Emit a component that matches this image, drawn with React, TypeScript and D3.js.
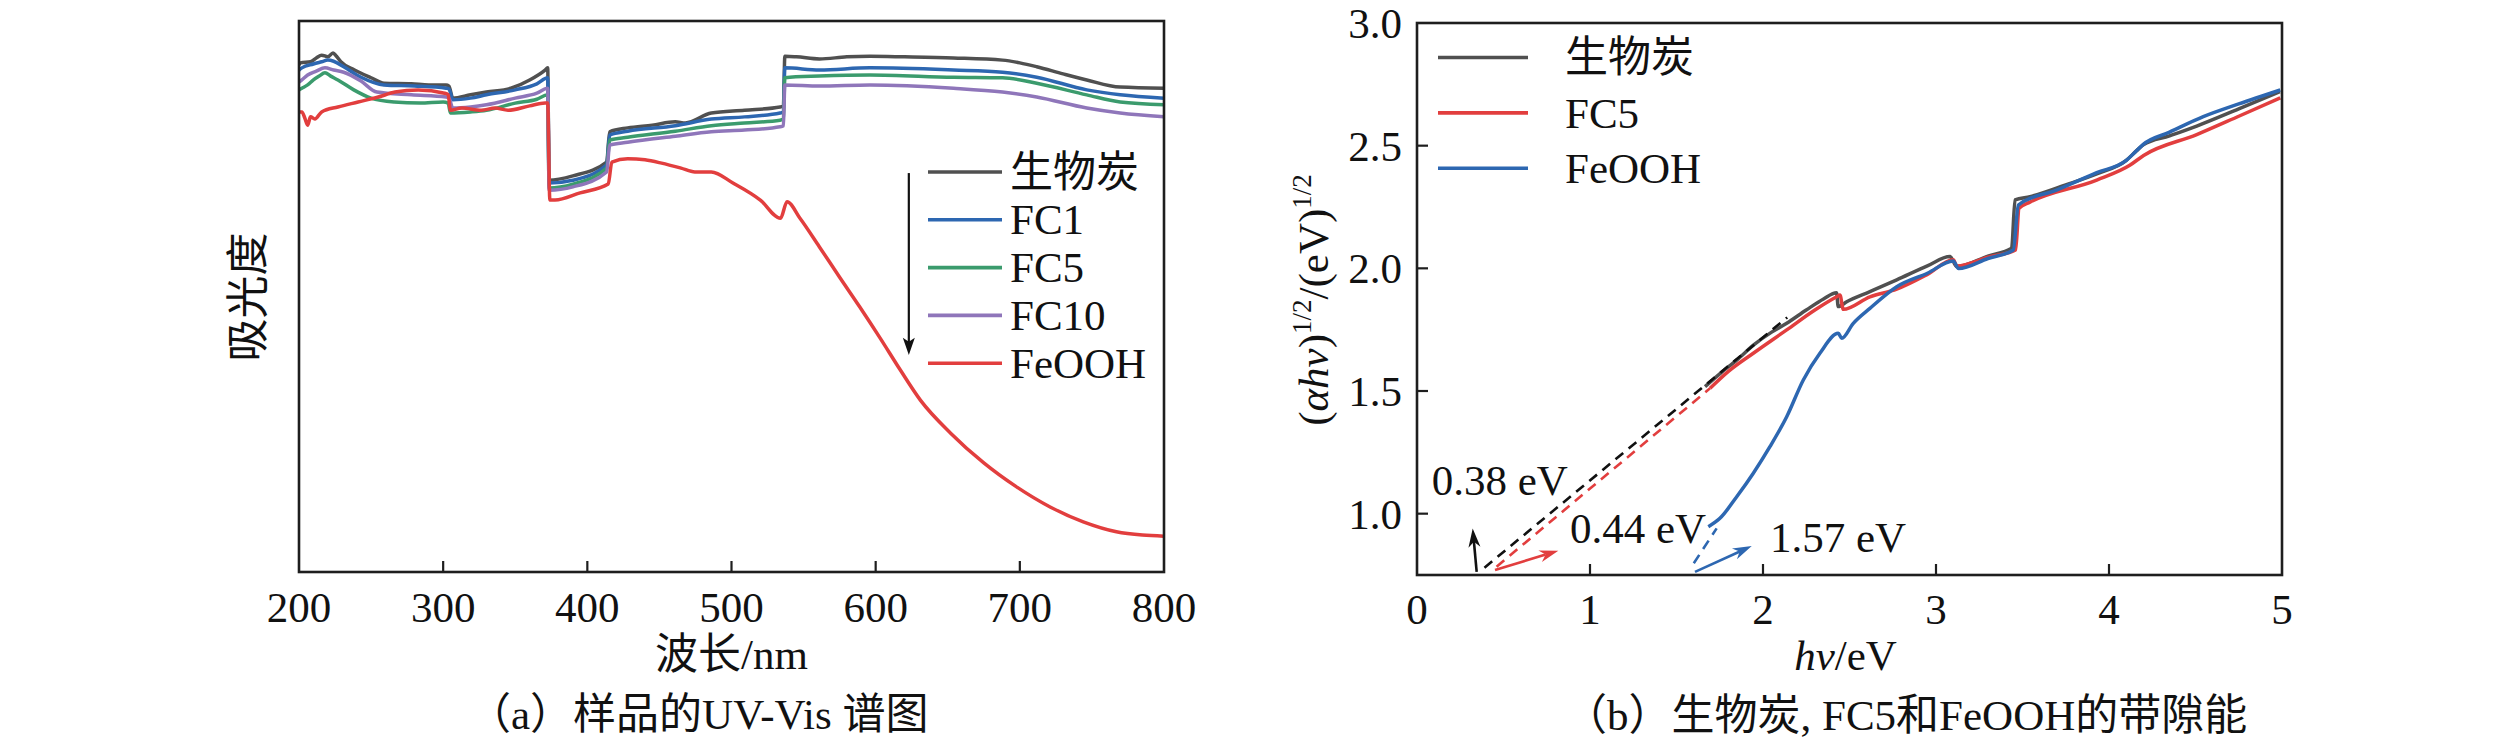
import * as d3 from "d3";

const SERIF = "'Liberation Serif', serif";
const MIXED = "'Liberation Serif', 'Noto Sans CJK SC', serif";

// ---------- (a) UV-Vis spectra, absorbance in a.u. (0-1) ----------
const uvTicks = [200, 300, 400, 500, 600, 700, 800];

const biocharUV: [number, number][] = [
  [200, 0.92], [201, 0.924], [208, 0.926], [212, 0.933], [215.7, 0.938], [220, 0.935],
  [223.6, 0.942], [226, 0.936], [229, 0.926], [238.5, 0.911], [250, 0.897], [259, 0.887],
  [278, 0.886], [290, 0.884], [302, 0.884], [304, 0.882], [306.7, 0.86], [319, 0.866],
  [330, 0.871], [347, 0.878], [360, 0.893], [370.7, 0.911], [372.5, 0.915], [373.5, 0.711],
  [390, 0.719], [413.4, 0.744], [415.5, 0.799], [428, 0.806], [445, 0.811], [461, 0.817],
  [468, 0.815], [486, 0.833], [509, 0.838], [533.7, 0.844], [536, 0.846], [537, 0.936],
  [545, 0.935], [561, 0.931], [580, 0.935], [596, 0.936], [620, 0.935], [654, 0.933],
  [688, 0.929], [700, 0.924], [711.7, 0.917], [730, 0.904], [746.4, 0.893], [769.6, 0.88],
  [800, 0.878],
];

const fc1UV: [number, number][] = [
  [200, 0.911], [202, 0.915], [210, 0.922], [215.7, 0.926], [220, 0.929], [224, 0.927],
  [231, 0.917], [243, 0.898], [259, 0.884], [280, 0.882], [302, 0.878], [304, 0.877],
  [306.7, 0.857], [319, 0.86], [330, 0.866], [350, 0.875], [365, 0.886], [372.5, 0.897],
  [373.5, 0.706], [390, 0.711], [413.4, 0.739], [415.5, 0.793], [428, 0.8], [461, 0.81],
  [486, 0.822], [509, 0.826], [533.7, 0.833], [536, 0.835], [537, 0.915], [561, 0.911],
  [596, 0.915], [654, 0.911], [688, 0.907], [711.7, 0.898], [746.4, 0.875], [769.6, 0.866],
  [800, 0.86],
];

const fc5UV: [number, number][] = [
  [200, 0.875], [202, 0.878], [206, 0.884], [210, 0.893], [214, 0.9], [218, 0.906],
  [222, 0.9], [227, 0.893], [238, 0.875], [250, 0.86], [266, 0.853], [284, 0.851],
  [300, 0.853], [303.5, 0.851], [305, 0.833], [319, 0.835], [330, 0.838], [350, 0.851],
  [365, 0.858], [372.5, 0.866], [373.5, 0.697], [390, 0.704], [413.4, 0.733], [415.5, 0.784],
  [428, 0.789], [461, 0.8], [486, 0.81], [509, 0.815], [533.7, 0.82], [536, 0.822],
  [537, 0.897], [561, 0.9], [596, 0.902], [654, 0.898], [688, 0.897], [711.7, 0.887],
  [746.4, 0.866], [769.6, 0.853], [800, 0.848],
];

const fc10UV: [number, number][] = [
  [200, 0.889], [202, 0.893], [206, 0.902], [212, 0.909], [218, 0.915], [224, 0.911],
  [231, 0.907], [243, 0.891], [254, 0.871], [278, 0.866], [302, 0.862], [304, 0.86],
  [306.7, 0.842], [319, 0.844], [330, 0.848], [350, 0.86], [365, 0.869], [372.5, 0.878],
  [373.5, 0.693], [390, 0.699], [413.4, 0.726], [415.5, 0.775], [428, 0.78], [461, 0.791],
  [486, 0.799], [509, 0.802], [533.7, 0.808], [536, 0.81], [537, 0.884], [561, 0.882],
  [596, 0.884], [654, 0.878], [688, 0.871], [711.7, 0.862], [746.4, 0.842], [769.6, 0.833],
  [800, 0.826],
];

const feoohUV: [number, number][] = [
  [200, 0.835], [202, 0.835], [204, 0.824], [206, 0.811], [208, 0.826], [211, 0.822],
  [215.7, 0.835], [227, 0.844], [241, 0.853], [255, 0.862], [266.6, 0.871], [282.7, 0.875],
  [301, 0.869], [303.5, 0.866], [305, 0.838], [313, 0.842], [326.6, 0.838], [336, 0.842],
  [345, 0.838], [360, 0.846], [370.7, 0.851], [372.5, 0.851], [374, 0.675], [377.6, 0.675],
  [395, 0.688], [414.5, 0.704], [417, 0.744], [428, 0.75], [440, 0.748], [451.5, 0.742],
  [465, 0.733], [474.6, 0.726], [486, 0.726], [501, 0.706], [520, 0.675], [534, 0.642],
  [538.5, 0.672], [547.5, 0.642], [561, 0.59], [575, 0.535], [589, 0.481], [603, 0.425],
  [617, 0.367], [631, 0.312], [652, 0.252], [675, 0.198], [698, 0.154], [721, 0.118],
  [744, 0.091], [767, 0.073], [785, 0.067], [800, 0.065],
];

const uvNames = ["生物炭", "FC1", "FC5", "FC10", "FeOOH"];
const uvColors = ["#505050", "#2d67b1", "#3b9b6d", "#8f76ba", "#e23e3e"];
const uvSeries = [biocharUV, fc1UV, fc5UV, fc10UV, feoohUV];

// ---------- (b) Tauc plots ----------
const eTicks = [0, 1, 2, 3, 4, 5];
const taucTicks = [1.0, 1.5, 2.0, 2.5, 3.0];

const biocharTauc: [number, number][] = [
  [1.665, 1.518], [1.75, 1.57], [1.848, 1.626], [1.95, 1.69], [2.05, 1.74], [2.137, 1.776],
  [2.25, 1.83], [2.35, 1.875], [2.425, 1.9], [2.435, 1.844], [2.484, 1.864], [2.618, 1.905],
  [2.773, 1.953], [2.95, 2.01], [3.081, 2.048], [3.12, 2.007], [3.3, 2.05], [3.437, 2.082],
  [3.457, 2.279], [3.543, 2.292], [3.75, 2.34], [3.929, 2.385], [4.1, 2.44], [4.16, 2.48],
  [4.198, 2.503], [4.35, 2.54], [4.507, 2.58], [4.75, 2.65], [4.988, 2.72],
];

const fc5Tauc: [number, number][] = [
  [1.694, 1.511], [1.8, 1.58], [1.944, 1.654], [2.137, 1.749], [2.3, 1.83], [2.426, 1.884],
  [2.445, 1.891], [2.464, 1.833], [2.618, 1.884], [2.773, 1.915], [2.95, 1.975], [3.1, 2.035],
  [3.12, 2.01], [3.3, 2.045], [3.46, 2.075], [3.48, 2.245], [3.543, 2.27], [3.929, 2.36],
  [4.12, 2.42], [4.2, 2.46], [4.507, 2.545], [4.75, 2.62], [4.99, 2.695],
];

const feoohTauc: [number, number][] = [
  [1.684, 0.947], [1.751, 0.981], [1.848, 1.069], [1.944, 1.165], [2.04, 1.273], [2.137, 1.395],
  [2.233, 1.545], [2.329, 1.654], [2.435, 1.735], [2.455, 1.715], [2.522, 1.776], [2.618, 1.837],
  [2.773, 1.925], [2.95, 1.98], [3.1, 2.03], [3.13, 1.999], [3.3, 2.04], [3.447, 2.075],
  [3.476, 2.258], [3.7, 2.32], [3.929, 2.39], [4.1, 2.44], [4.16, 2.48], [4.198, 2.505],
  [4.35, 2.555], [4.545, 2.618], [4.75, 2.67], [4.99, 2.727],
];

const taucNames = ["生物炭", "FC5", "FeOOH"];
const taucColors = ["#505050", "#e23e3e", "#2d67b1"];
const taucSeries = [biocharTauc, fc5Tauc, feoohTauc];

// linear extrapolations to the baseline
const fitLines: [number, number][][] = [
  [[0.39, 0.78], [2.14, 1.8]],
  [[0.46, 0.784], [1.694, 1.511]],
  [[1.6, 0.798], [1.732, 0.94]],
];
const fitColors = ["#111111", "#e23e3e", "#2d67b1"];

// band gap callouts: arrow from, arrow to, label position
const gapLabels = ["0.38 eV", "0.44 eV", "1.57 eV"];
const gapArrows: [number, number][][] = [
  [[0.345, 0.763], [0.322, 0.94]],
  [[0.451, 0.77], [0.817, 0.849]],
  [[1.607, 0.763], [1.935, 0.868]],
];
const gapTextPos: [number, number][] = [[0.085, 1.076], [0.884, 0.879], [2.04, 0.845]];
const gapColors = ["#111111", "#e23e3e", "#2d67b1"];

const A = { left: 299, right: 1164, top: 21, bottom: 572 };
const B = { left: 1417, right: 2282, top: 23, bottom: 575 };

// latin-only text
const T = (props: any) => <text fontFamily={SERIF} fontSize={43} fill="#111" {...props} />;
// text with Chinese characters
const C = (props: any) => <text fontFamily={MIXED} fontSize={43} fill="#111" {...props} />;

const PanelA = () => {
  const x = d3.scaleLinear().domain([200, 800]).range([A.left, A.right]);
  const y = d3.scaleLinear().domain([0, 1]).range([A.bottom, A.top]);
  const line = d3
    .line<[number, number]>()
    .x((d) => x(d[0]))
    .y((d) => y(d[1]))
    .curve(d3.curveMonotoneX);

  return (
    <g>
      <defs>
        <clipPath id="clipA">
          <rect x={A.left} y={A.top} width={A.right - A.left} height={A.bottom - A.top} />
        </clipPath>
      </defs>
      <g clipPath="url(#clipA)">
        {uvSeries.map((s, i) => (
          <path key={i} d={line(s) as string} fill="none" stroke={uvColors[i]} strokeWidth={3.5} strokeLinejoin="round" />
        ))}
      </g>
      <rect x={A.left} y={A.top} width={A.right - A.left} height={A.bottom - A.top} fill="none" stroke="#1e1e1e" strokeWidth={2.6} />
      {uvTicks.slice(1, -1).map((t) => (
        <line key={t} x1={x(t)} x2={x(t)} y1={A.bottom} y2={A.bottom - 11} stroke="#1e1e1e" strokeWidth={2.2} />
      ))}
      {uvTicks.map((t) => (
        <T key={t} x={x(t)} y={622} textAnchor="middle">{String(t)}</T>
      ))}
      <C x={(A.left + A.right) / 2} y={669} textAnchor="middle">波长/nm</C>
      <C transform={`translate(263,297) rotate(-90)`} textAnchor="middle">吸光度</C>

      {/* legend */}
      {uvNames.map((n, i) => (
        <g key={n} transform={`translate(928,${172 + i * 47.8})`}>
          <line x1={0} x2={74} y1={0} y2={0} stroke={uvColors[i]} strokeWidth={3.6} />
          {i === 0 ? (
            <C x={82} y={0} dy="0.34em">{n}</C>
          ) : (
            <T x={82} y={0} dy="0.34em">{n}</T>
          )}
        </g>
      ))}
      <line x1={x(623)} x2={x(623)} y1={y(0.724)} y2={y(0.41)} stroke="#111" strokeWidth={2.2} />
      <path d={`M${x(623) - 6},${y(0.425)} L${x(623)},${y(0.394)} L${x(623) + 6},${y(0.425)} L${x(623)},${y(0.418)} Z`} fill="#111" />

      <C x={468} y={729}>（a）样品的UV-Vis 谱图</C>
    </g>
  );
};

const arrowHead = (x1: number, y1: number, x2: number, y2: number, len: number, half: number) => {
  const a = Math.atan2(y2 - y1, x2 - x1);
  const bx = x2 - len * Math.cos(a);
  const by = y2 - len * Math.sin(a);
  const nx = -Math.sin(a) * half;
  const ny = Math.cos(a) * half;
  const mx = x2 - len * 0.7 * Math.cos(a);
  const my = y2 - len * 0.7 * Math.sin(a);
  return `M${x2},${y2} L${bx + nx},${by + ny} L${mx},${my} L${bx - nx},${by - ny} Z`;
};

const PanelB = () => {
  const x = d3.scaleLinear().domain([0, 5]).range([B.left, B.right]);
  const y = d3.scaleLinear().domain([0.75, 3.0]).range([B.bottom, B.top]);
  const smooth = d3
    .line<[number, number]>()
    .x((d) => x(d[0]))
    .y((d) => y(d[1]))
    .curve(d3.curveMonotoneX);
  const straight = d3.line<[number, number]>().x((d) => x(d[0])).y((d) => y(d[1]));

  return (
    <g>
      <defs>
        <clipPath id="clipB">
          <rect x={B.left} y={B.top} width={B.right - B.left} height={B.bottom - B.top} />
        </clipPath>
      </defs>
      <g clipPath="url(#clipB)">
        {taucSeries.map((s, i) => (
          <path key={i} d={smooth(s) as string} fill="none" stroke={taucColors[i]} strokeWidth={3.5} strokeLinejoin="round" />
        ))}
        {fitLines.map((f, i) => (
          <path key={i} d={straight(f) as string} fill="none" stroke={fitColors[i]} strokeWidth={2.6} strokeDasharray="10 7" />
        ))}
        {gapArrows.map((a, i) => {
          const [x1, y1, x2, y2] = [x(a[0][0]), y(a[0][1]), x(a[1][0]), y(a[1][1])];
          return (
            <g key={i}>
              <line x1={x1} y1={y1} x2={x1 + (x2 - x1) * 0.8} y2={y1 + (y2 - y1) * 0.8} stroke={gapColors[i]} strokeWidth={2.6} />
              <path d={arrowHead(x1, y1, x2, y2, 19, 6)} fill={gapColors[i]} />
            </g>
          );
        })}
      </g>
      <rect x={B.left} y={B.top} width={B.right - B.left} height={B.bottom - B.top} fill="none" stroke="#1e1e1e" strokeWidth={2.6} />
      {eTicks.slice(1, -1).map((t) => (
        <line key={t} x1={x(t)} x2={x(t)} y1={B.bottom} y2={B.bottom - 11} stroke="#1e1e1e" strokeWidth={2.2} />
      ))}
      {eTicks.map((t) => (
        <T key={t} x={x(t)} y={624} textAnchor="middle">{String(t)}</T>
      ))}
      {taucTicks.slice(0, -1).map((t) => (
        <line key={t} x1={B.left} x2={B.left + 11} y1={y(t)} y2={y(t)} stroke="#1e1e1e" strokeWidth={2.2} />
      ))}
      {taucTicks.map((t) => (
        <T key={t} x={1402} y={y(t)} dy="0.35em" textAnchor="end">{t.toFixed(1)}</T>
      ))}
      <T x={(B.left + B.right) / 2 - 4} y={670} textAnchor="middle">
        <tspan fontStyle="italic">hν</tspan>/eV
      </T>
      <T transform={`translate(1328,300) rotate(-90)`} textAnchor="middle">
        (<tspan fontStyle="italic">αhν</tspan>)<tspan fontSize={27} dy={-17}>1/2</tspan>
        <tspan dy={17}>/(eV)</tspan><tspan fontSize={27} dy={-17}>1/2</tspan>
      </T>

      {gapLabels.map((l, i) => (
        <T key={l} x={x(gapTextPos[i][0])} y={y(gapTextPos[i][1])}>{l}</T>
      ))}

      {/* legend */}
      {taucNames.map((n, i) => (
        <g key={n} transform={`translate(1438,${57.5 + i * 55.4})`}>
          <line x1={0} x2={90} y1={0} y2={0} stroke={taucColors[i]} strokeWidth={3.6} />
          {i === 0 ? (
            <C x={127} y={0} dy="0.34em">{n}</C>
          ) : (
            <T x={127} y={0} dy="0.34em">{n}</T>
          )}
        </g>
      ))}

      <C x={1564} y={730}>（b）生物炭, FC5和FeOOH的带隙能</C>
    </g>
  );
};

export default function App() {
  return (
    <svg
      width={2519}
      height={745}
      style={{ position: "absolute", left: 0, top: 0, background: "#fff" }}
    >
      <PanelA />
      <PanelB />
    </svg>
  );
}
